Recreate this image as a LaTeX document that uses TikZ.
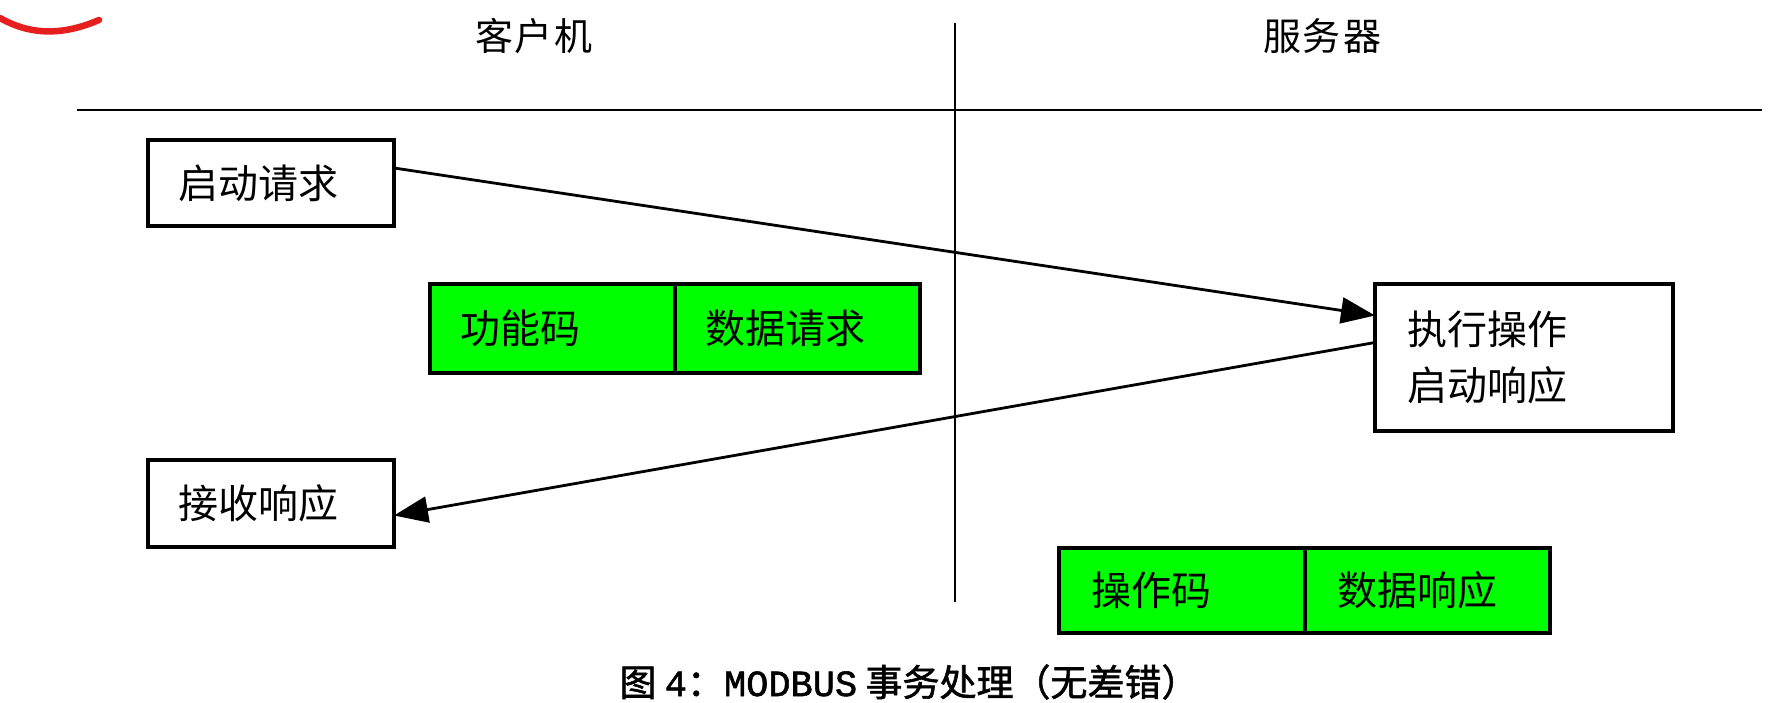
\documentclass[tikz,border=0pt]{standalone}
\usepackage{fontspec}
\usetikzlibrary{arrows.meta, positioning}
\setmainfont{Noto Sans CJK SC}
\newfontfamily\capfont[FakeBold=1.5]{Noto Sans CJK SC}
\newfontfamily\capmono[FakeBold=1.5]{Liberation Mono}
\definecolor{cellgreen}{RGB}{0, 255, 0}
\definecolor{markred}{RGB}{230, 30, 30}

\tikzset{
  box/.style={draw, line width=3.4pt, anchor=north west, align=left, outer sep=0pt,
    inner xsep=30pt, inner ysep=0pt, font=\fontsize{40}{56}\selectfont},
  cell/.style={box, fill=cellgreen, text width=185pt},
  msg/.style={line width=2.8pt, -{Triangle[length=34pt, width=26pt]}}
}

\begin{document}
\begin{tikzpicture}[x=1pt, y=-1pt]
  \useasboundingbox (0,0) rectangle (1782,703);

  % Red pen mark (top left)
  \draw[markred, line width=6.5pt, line cap=round] (0,18) .. controls (30,35) and (62,36) .. (99,20);

  % Column heads and dividing lines
  \node[font=\fontsize{38}{40}\selectfont] (client) at (534,36) {客\kern2pt 户\kern2pt 机};
  \node[font=\fontsize{38}{40}\selectfont] (server) at (1322,36) {服\kern2pt 务\kern2pt 器};
  \draw[line width=2.8pt] (77,110) -- (1762,110);
  \draw[line width=2.8pt] (955,23) -- (955,602);

  % Client boxes
  \node[box, text width=186pt, minimum height=86pt] (req) at (148,140) {启动请求};
  \node[box, text width=186pt, minimum height=87pt] (recv) at (148,460) {接收响应};

  % Server box
  \node[box, inner xsep=32pt, text width=234pt, minimum height=147pt] (exec) at (1375,284) {执行操作\\启动响应};

  % Request frame
  \node[cell, minimum height=89pt] (func) at (430,284) {功能码};
  \node[cell, minimum height=89pt, right=0pt of func, anchor=west] (reqdata) {数据请求};

  % Response frame
  \node[cell, inner xsep=32pt, text width=182pt, minimum height=85pt] (opcode) at (1059,548) {操作码};
  \node[cell, inner xsep=32pt, text width=181pt, minimum height=85pt, right=0pt of opcode, anchor=west] (respdata) {数据响应};

  % Messages
  \draw[msg] ([yshift=15pt]req.east) -- ([yshift=42pt]exec.west);
  \draw[msg] ([yshift=15pt]exec.west) -- ([yshift=-12pt]recv.east);

  \node (caption) at (909,682) {\fontsize{37}{40}\capfont 图 {\capmono 4}：{\capmono MODBUS} 事务处理（无差错）};
\end{tikzpicture}
\end{document}
